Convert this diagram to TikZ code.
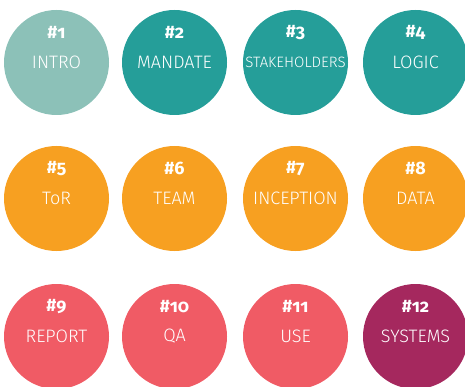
\documentclass[tikz,border=0pt]{standalone}
\usepackage{fontspec}
\setmainfont{Fira Sans}[UprightFont=* Light, BoldFont=* SemiBold]
\newfontfamily\stepnumfont[Numbers=OldStyle]{Fira Sans}
\usepackage{tikz}
\usetikzlibrary{positioning}

\definecolor{softteal}{RGB}{140,193,184}
\definecolor{teal}{RGB}{37,158,153}
\definecolor{amber}{RGB}{247,160,33}
\definecolor{coral}{RGB}{240,91,101}
\definecolor{plum}{RGB}{165,40,94}

\tikzset{
	step disc/.style = {circle, fill=#1, draw=none, minimum size=105pt, inner sep=0pt,
		text=white, font=\fontsize{18}{18}\selectfont},
	step num/.style = {text=white, inner sep=0pt,
		font=\stepnumfont\bfseries\fontsize{18}{18}\selectfont}
}

\begin{document}
\begin{tikzpicture}[x=1pt, y=1pt]
	    \useasboundingbox (0,0) rectangle (465,386);
	    \clip (0,0) rectangle (465,386);
	    % first row
	    \node[step disc=softteal] (intro) at (56.5,323.5) {INTRO};
	    \node[step disc=teal] (mandate) at (174.5,323.5) {MANDATE};
	    \node[step disc=teal, font=\fontsize{15}{15}\selectfont] (stakeholders) at (295.5,323.5) {STAKEHOLDERS};
	    \node[step disc=teal] (logic) at (415.5,323.5) {LOGIC};
	    % second row
	    \node[step disc=amber] (tor) at (56.5,187.5) {ToR};
	    \node[step disc=amber] (team) at (174.5,187.5) {TEAM};
	    \node[step disc=amber] (inception) at (295.5,187.5) {INCEPTION};
	    \node[step disc=amber] (data) at (415.5,187.5) {DATA};
	    % third row
	    \node[step disc=coral] (report) at (56.5,49.5) {REPORT};
	    \node[step disc=coral] (qa) at (174.5,49.5) {QA};
	    \node[step disc=coral] (use) at (295.5,49.5) {USE};
	    \node[step disc=plum] (systems) at (415.5,49.5) {SYSTEMS};
	    % numbers
	    \node[step num] (n1) at ([yshift=30pt]intro.center) {\#1};
	    \node[step num] (n2) at ([yshift=30pt]mandate.center) {\#2};
	    \node[step num] (n3) at ([yshift=30pt]stakeholders.center) {\#3};
	    \node[step num] (n4) at ([yshift=30pt]logic.center) {\#4};
	    \node[step num] (n5) at ([yshift=30pt]tor.center) {\#5};
	    \node[step num] (n6) at ([yshift=30pt]team.center) {\#6};
	    \node[step num] (n7) at ([yshift=30pt]inception.center) {\#7};
	    \node[step num] (n8) at ([yshift=30pt]data.center) {\#8};
	    \node[step num] (n9) at ([yshift=30pt]report.center) {\#9};
	    \node[step num] (n10) at ([yshift=30pt]qa.center) {\#10};
	    \node[step num] (n11) at ([yshift=30pt]use.center) {\#11};
	    \node[step num] (n12) at ([yshift=30pt]systems.center) {\#12};
	\end{tikzpicture}
\end{document}
